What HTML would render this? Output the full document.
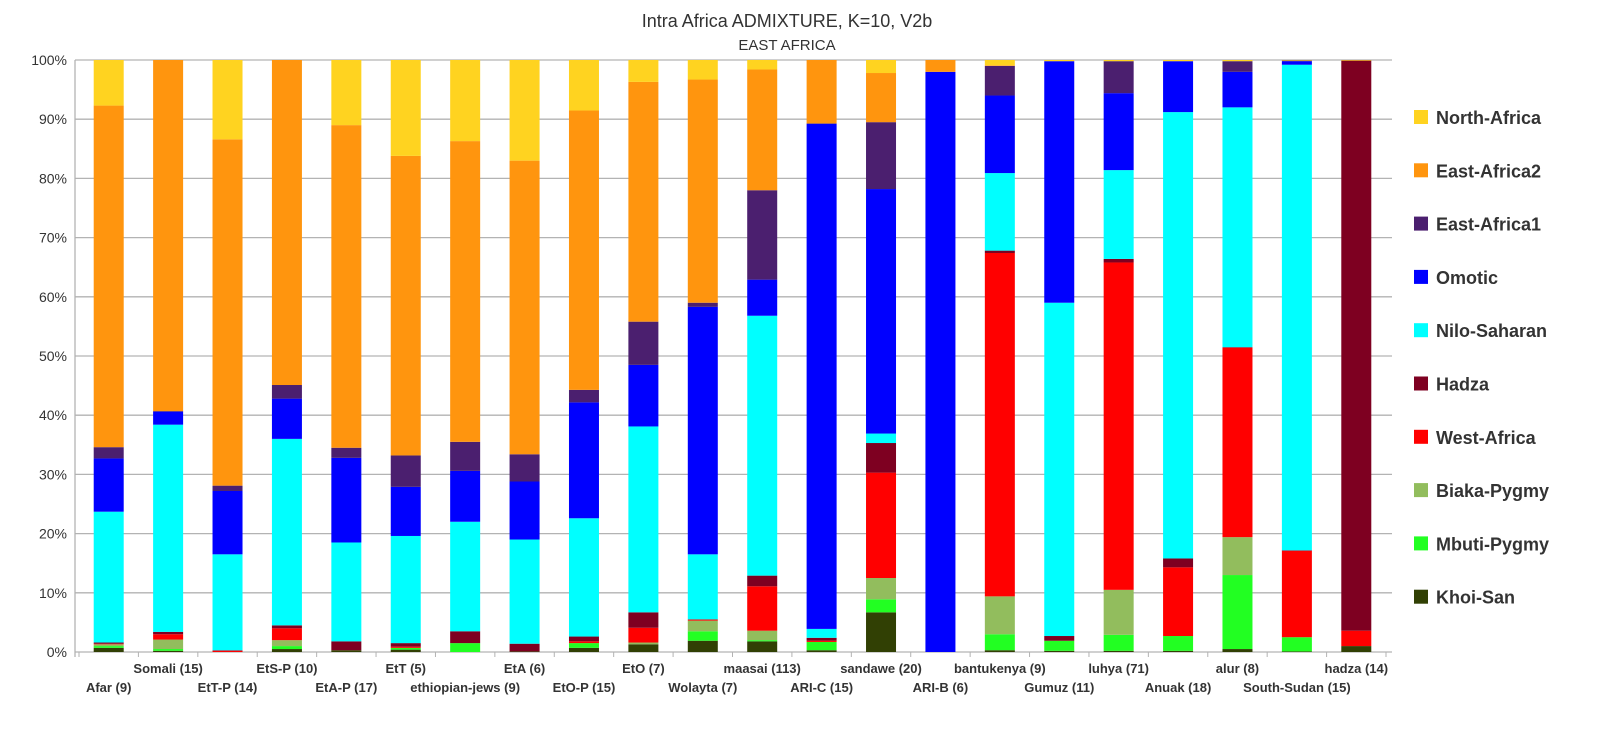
<!DOCTYPE html>
<html><head><meta charset="utf-8"><style>
body{margin:0;background:#fff;}
svg{display:block;font-family:"Liberation Sans",sans-serif;}
</style></head><body>
<svg id="chart" width="1600" height="737">
<text x="787" y="27" text-anchor="middle" font-size="18" fill="#333">Intra Africa ADMIXTURE, K=10, V2b</text>
<text x="787" y="50" text-anchor="middle" font-size="15" fill="#333">EAST AFRICA</text>
<g id="grid"></g><g id="bars"></g><g id="xlabels"></g><g id="ylabels"></g><g id="legend"></g>
</svg>
<script>
const categories=["Afar (9)","Somali (15)","EtT-P (14)","EtS-P (10)","EtA-P (17)","EtT (5)","ethiopian-jews (9)","EtA (6)","EtO-P (15)","EtO (7)","Wolayta (7)","maasai (113)","ARI-C (15)","sandawe (20)","ARI-B (6)","bantukenya (9)","Gumuz (11)","luhya (71)","Anuak (18)","alur (8)","South-Sudan (15)","hadza (14)"];
const seriesNames=["Khoi-San","Mbuti-Pygmy","Biaka-Pygmy","West-Africa","Hadza","Nilo-Saharan","Omotic","East-Africa1","East-Africa2","North-Africa"];
const khoiSan=[0.7,0.2,0,0.5,0.3,0.4,0,0.1,0.7,1.3,1.9,1.8,0.3,6.7,0,0.3,0.2,0.2,0.2,0.5,0.1,1];
const mbuti=[0.3,0.3,0,0.5,0,0.3,1.5,0,0.8,0,1.6,0.2,1.4,2.2,0,2.7,1.7,2.7,2.5,12.5,2.4,0];
const biaka=[0.3,1.6,0,1,0,0,0,0,0,0.3,1.8,1.6,0,3.6,0,6.4,0,7.6,0,6.4,0,0];
const westAfrica=[0.1,0.9,0.2,2,0,0.2,0,0,0.3,2.5,0.2,7.5,0.2,17.8,0,58,0,55.3,11.6,32,14.6,2.6];
const hadza=[0.2,0.4,0.1,0.5,1.5,0.6,2,1.3,0.8,2.6,0,1.8,0.5,5,0,0.4,0.8,0.6,1.5,0.1,0.1,96.3];
const niloSaharan=[22.1,35,16.2,31.5,16.7,18.1,18.5,17.6,19.9,31.4,11,43.9,1.5,1.6,0,13.1,56.3,15,75.4,40.5,82.1,0];
const omotic=[9,2.2,10.7,6.8,14.3,8.3,8.6,9.8,19.5,10.4,41.8,6.1,85.3,41.3,98,13.1,40.8,13,8.6,6,0.6,0];
const eastAfrica1=[1.9,0.1,0.9,2.3,1.7,5.3,4.9,4.6,2.1,7.3,0.7,15.1,0.1,11.3,0,5,0,5.4,0,1.8,0.1,0];
const eastAfrica2=[57.7,59.3,58.5,54.9,54.5,50.6,50.8,49.6,47,40.5,37.7,20.4,10.7,8.3,2,0.1,0,0,0,0,0,0];
const northAfrica=[7.7,0,13.4,0,11,16.2,13.7,17,8.5,3.7,3.3,1.6,0,2.2,0,0.9,0.2,0.2,0.2,0.2,0.1,0.1];
const yTicks=["0%","10%","20%","30%","40%","50%","60%","70%","80%","90%","100%"];
const series=[khoiSan,mbuti,biaka,westAfrica,hadza,niloSaharan,omotic,eastAfrica1,eastAfrica2,northAfrica];
const colors=["#314004","#22ff22","#92bd5d","#ff0000","#7e0021","#00ffff","#0000ff","#4b1f6f","#ff950e","#ffd320"];
const SVGNS="http://www.w3.org/2000/svg";
const plotTop=60,plotBot=652,plotLeft=79,plotRight=1386;
const slot=(plotRight-plotLeft)/categories.length,bw=30;
function yPos(p){return plotBot-(plotBot-plotTop)*p/100;}
function xc(i){return plotLeft+slot*(i+0.5);}
function mk(tag,attrs,parent){const e=document.createElementNS(SVGNS,tag);for(const k in attrs)e.setAttribute(k,attrs[k]);parent.appendChild(e);return e;}
const grid=document.getElementById('grid'),bars=document.getElementById('bars'),xl=document.getElementById('xlabels'),yl=document.getElementById('ylabels'),lg=document.getElementById('legend');
yTicks.forEach((t,i)=>{
 const l=mk('line',{x1:75,x2:1392,y1:yPos(i*10),y2:yPos(i*10),stroke:'#b3b3b3','stroke-width':1.3},grid);
 
 
 const tx=mk('text',{x:67,y:yPos(i*10)+5,'text-anchor':'end','font-size':14,fill:'#333'},yl);
 tx.textContent=t;
 
 
});
mk('line',{x1:75,x2:75,y1:plotTop,y2:plotBot+5,stroke:'#b3b3b3','stroke-width':1.3},grid);
for(let i=0;i<=categories.length;i++){mk('line',{x1:plotLeft+slot*i,x2:plotLeft+slot*i,y1:plotBot,y2:plotBot+5,stroke:'#b3b3b3'},grid);}
categories.forEach((c,i)=>{
 const tot=series.reduce((s,a)=>s+a[i],0);
 let cum=0;
 series.forEach((a,k)=>{
  const v=a[i]/tot*100;
  if(v<=0){return;}
  const r=mk('rect',{x:xc(i)-bw/2,y:yPos(cum+v),width:bw,height:Math.max(0,yPos(cum)-yPos(cum+v)),fill:colors[k]},bars);
  
  
  cum+=v;
 });
 const t=mk('text',{x:xc(i),y:i%2===0?692:673,'text-anchor':'middle','font-size':13,'font-weight':'bold',fill:'#333'},xl);
 t.textContent=c;
 
 
});
for(let k=9;k>=0;k--){
 const j=9-k,yy=117+j*53.3;
 const r=mk('rect',{x:1414,y:yy-7,width:14,height:14,fill:colors[k]},lg);
 
 
 const t=mk('text',{x:1436,y:yy+7,'font-size':18,'font-weight':'bold',fill:'#333'},lg);
 t.textContent=seriesNames[k];
 
 
}
</script>
</body></html>
